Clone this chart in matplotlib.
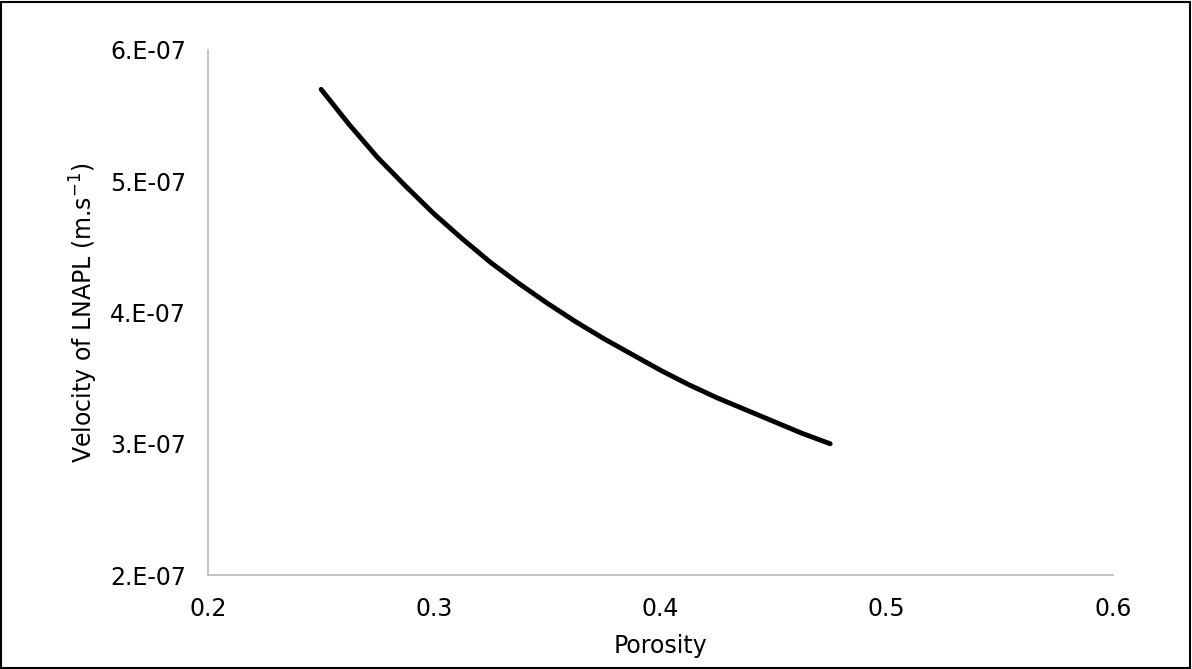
import matplotlib
matplotlib.use("Agg")
import matplotlib.pyplot as plt
from matplotlib.patches import Rectangle

# porosity vs LNAPL velocity
porosity = [0.25, 0.2625, 0.275, 0.2875, 0.30, 0.3125, 0.325, 0.3375, 0.35, 0.3625,
            0.375, 0.3875, 0.40, 0.4125, 0.425, 0.4375, 0.45, 0.4625, 0.475]
velocity = [5.70e-7, 5.43e-7, 5.18e-7, 4.96e-7, 4.75e-7, 4.56e-7, 4.38e-7, 4.22e-7,
            4.07e-7, 3.93e-7, 3.80e-7, 3.68e-7, 3.56e-7, 3.45e-7, 3.35e-7, 3.26e-7,
            3.17e-7, 3.08e-7, 3.00e-7]

x_ticks = [0.2, 0.3, 0.4, 0.5, 0.6]
y_ticks = [2e-7, 3e-7, 4e-7, 5e-7, 6e-7]
y_tick_labels = ["2.E-07", "3.E-07", "4.E-07", "5.E-07", "6.E-07"]

plt.rcParams['font.family'] = ['DejaVu Sans']

fig = plt.figure(figsize=(11.92, 6.69), dpi=100)
ax = fig.add_axes([0.1745, 0.1405, 0.7592, 0.7848])

ax.plot(porosity, velocity, color="black", linewidth=3.5, solid_capstyle="round",
        solid_joinstyle="round")

ax.set_xlim(0.2, 0.6)
ax.set_ylim(2e-7, 6e-7)
ax.set_xticks(x_ticks)
ax.set_xticklabels([str(t) for t in x_ticks])
ax.set_yticks(y_ticks)
ax.set_yticklabels(y_tick_labels)
ax.tick_params(length=0, labelsize=17, colors="#000000")
ax.tick_params(axis="x", pad=16)
ax.tick_params(axis="y", pad=16)

for s in ["top", "right"]:
    ax.spines[s].set_visible(False)
for s in ["left", "bottom"]:
    ax.spines[s].set_color("#bfbfbf")
    ax.spines[s].set_linewidth(1.3)

ax.set_xlabel("Porosity", fontsize=17, labelpad=9)
ax.set_ylabel("Velocity of LNAPL (m.s$^{-1}$)", fontsize=17, labelpad=7)

# outer border around the whole chart
fig.patches.append(Rectangle((0.001, 0.002), 0.997, 0.995, transform=fig.transFigure,
                             fill=False, edgecolor="black", linewidth=1.5))

fig.savefig("out.png", dpi=100)
